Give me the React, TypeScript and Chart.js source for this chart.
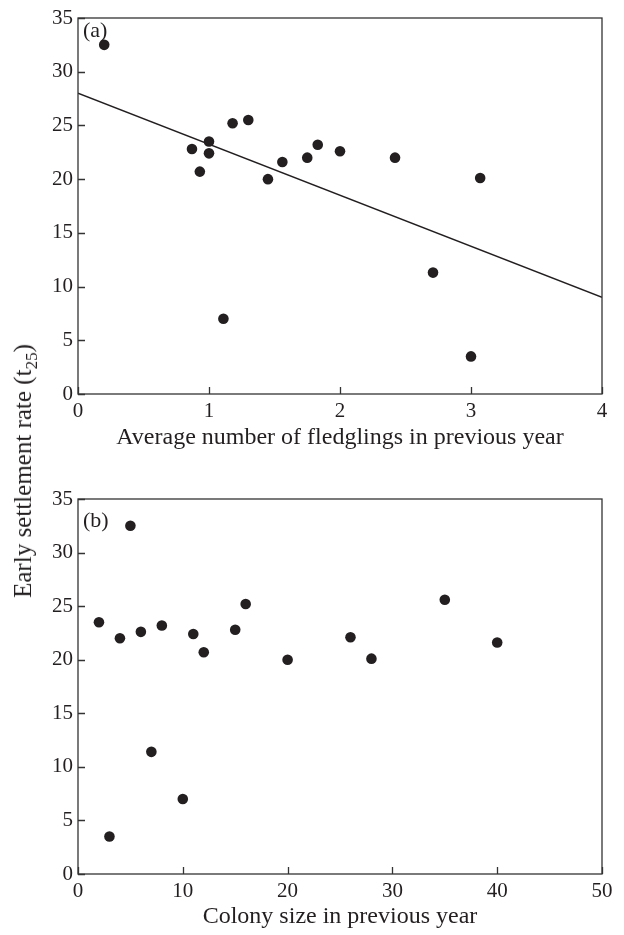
import React, { useEffect, useRef } from "react";
import { Chart, registerables } from "chart.js";

Chart.register(...registerables);

// Panel (a): average number of fledglings in previous year vs early settlement rate
const fledglingsX = [0.2, 0.87, 0.93, 1.0, 1.0, 1.11, 1.18, 1.3, 1.45, 1.56, 1.75, 1.83, 2.0, 2.42, 2.71, 3.0, 3.07];
const fledglingsY = [32.5, 22.8, 20.7, 23.5, 22.4, 7.0, 25.2, 25.5, 20.0, 21.6, 22.0, 23.2, 22.6, 22.0, 11.3, 3.5, 20.1];
// regression line end points
const fitX = [0, 4];
const fitY = [28.0, 9.0];

// Panel (b): colony size in previous year vs early settlement rate
const colonyX = [2, 3, 4, 5, 6, 7, 8, 10, 11, 12, 15, 16, 20, 26, 28, 35, 40];
const colonyY = [23.5, 3.5, 22.0, 32.5, 22.6, 11.4, 23.2, 7.0, 22.4, 20.7, 22.8, 25.2, 20.0, 22.1, 20.1, 25.6, 21.6];

const yTicksMax = 35;
const ink = "#231f20";
const FONT = "'Liberation Serif', 'DejaVu Serif', serif";

const framePlugin = {
  id: "frame",
  afterDatasetsDraw(chart: any, _args: any, opts: any) {
    const { ctx, chartArea } = chart;
    const { left, right, top, bottom } = chartArea;
    const x = chart.scales.x;
    const y = chart.scales.y;
    ctx.save();
    ctx.strokeStyle = "#333";
    ctx.lineWidth = 1.3;
    ctx.strokeRect(left, top, right - left, bottom - top);
    ctx.beginPath();
    x.ticks.forEach((t: any) => {
      const px = Math.round(x.getPixelForValue(t.value)) + 0.5;
      ctx.moveTo(px, bottom);
      ctx.lineTo(px, bottom - 7);
    });
    y.ticks.forEach((t: any) => {
      const py = Math.round(y.getPixelForValue(t.value)) + 0.5;
      ctx.moveTo(left, py);
      ctx.lineTo(left + 7, py);
    });
    ctx.stroke();
    ctx.fillStyle = ink;
    ctx.font = `22px ${FONT}`;
    ctx.textBaseline = "middle";
    ctx.textAlign = "left";
    ctx.fillText(opts.label, left + 5, top + opts.labelOffset);
    ctx.restore();
  },
};

function makeConfig(
  xs: number[],
  ys: number[],
  xMax: number,
  xStep: number,
  title: string,
  label: string,
  labelOffset: number,
  padTop: number,
  padBottom: number,
  xHeight: number,
  line?: { x: number[]; y: number[] }
) {
  const datasets: any[] = [
    {
      type: "scatter",
      data: xs.map((v, i) => ({ x: v, y: ys[i] })),
      backgroundColor: ink,
      borderWidth: 0,
      pointRadius: 5.3,
    },
  ];
  if (line) {
    datasets.push({
      type: "line",
      data: line.x.map((v, i) => ({ x: v, y: line.y[i] })),
      borderColor: ink,
      borderWidth: 1.3,
      pointRadius: 0,
      fill: false,
    });
  }
  return {
    type: "scatter" as const,
    data: { datasets },
    plugins: [framePlugin],
    options: {
      animation: false,
      responsive: false,
      events: [],
      layout: { padding: { left: 0, right: 22, top: padTop, bottom: padBottom } },
      plugins: {
        legend: { display: false },
        tooltip: { enabled: false },
        frame: { label, labelOffset },
      },
      scales: {
        x: {
          type: "linear",
          min: 0,
          max: xMax,
          grid: { display: false, drawTicks: false },
          border: { display: false },
          ticks: {
            stepSize: xStep,
            autoSkip: false,
            maxRotation: 0,
            color: ink,
            padding: 5,
            font: { family: FONT, size: 21 },
          },
          title: {
            display: true,
            text: title,
            color: ink,
            padding: { top: 0, bottom: 0 },
            font: { family: FONT, size: 24, lineHeight: 1.2 },
          },
          afterFit(s: any) {
            s.height = xHeight;
          },
        },
        y: {
          type: "linear",
          min: 0,
          max: yTicksMax,
          grid: { display: false, drawTicks: false },
          border: { display: false },
          ticks: {
            stepSize: 5,
            autoSkip: false,
            color: ink,
            padding: 5,
            font: { family: FONT, size: 21 },
          },
          afterFit(s: any) {
            s.width = 78;
          },
        },
      },
    },
  };
}

export default function App() {
  const topRef = useRef<HTMLCanvasElement>(null);
  const botRef = useRef<HTMLCanvasElement>(null);

  useEffect(() => {
    const c1 = new Chart(
      topRef.current as HTMLCanvasElement,
      makeConfig(
        fledglingsX,
        fledglingsY,
        4,
        1,
        "Average number of fledglings in previous year",
        "(a)",
        13,
        18,
        8,
        58,
        { x: fitX, y: fitY }
      ) as any
    );
    const c2 = new Chart(
      botRef.current as HTMLCanvasElement,
      makeConfig(colonyX, colonyY, 50, 10, "Colony size in previous year", "(b)", 22, 39, 4, 57) as any
    );
    return () => {
      c1.destroy();
      c2.destroy();
    };
  }, []);

  return (
    <div style={{ position: "absolute", left: 0, top: 0, width: 624, height: 935, background: "#fff" }}>
      <canvas ref={topRef} width={624} height={460} style={{ position: "absolute", left: 0, top: 0 }} />
      <canvas ref={botRef} width={624} height={475} style={{ position: "absolute", left: 0, top: 460 }} />
      <div
        style={{
          position: "absolute",
          left: 25,
          top: 471,
          transform: "translate(-50%, -50%) rotate(-90deg)",
          whiteSpace: "nowrap",
          fontFamily: FONT,
          fontSize: 25,
          color: ink,
          lineHeight: 1,
        }}
      >
        Early settlement rate (t<sub style={{ fontSize: 17 }}>25</sub>)
      </div>
    </div>
  );
}
